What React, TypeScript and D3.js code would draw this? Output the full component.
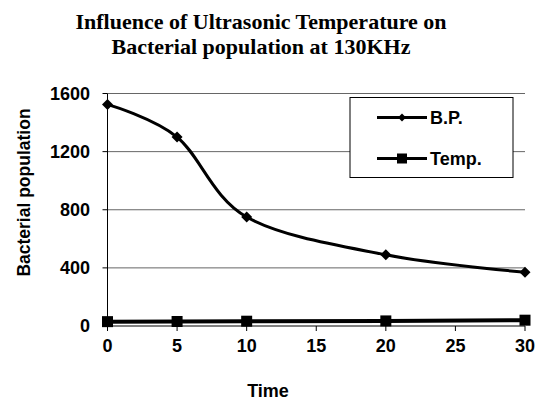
import React from 'react';
import * as d3 from 'd3';

const times = [0, 5, 10, 20, 30];
const bacterialPop = [1525, 1300, 750, 490, 370];
const temperature = [30, 31, 33, 35, 40];
const yTicks = [0, 400, 800, 1200, 1600];
const xTicks = [0, 5, 10, 15, 20, 25, 30];
const titleLines = ['Influence of Ultrasonic Temperature on', 'Bacterial population at 130KHz'];

const W = 542;
const H = 401;
const sans = 'Arial, "Liberation Sans", sans-serif';
const serif = '"Times New Roman", "Liberation Serif", serif';

const App: React.FC = () => {
  const x = d3.scaleLinear().domain([0, 30]).range([107.5, 525]);
  const y = d3.scaleLinear().domain([0, 1600]).range([326, 93.5]);

  const bpLine = d3
    .line<number>()
    .x((_, i) => x(times[i]))
    .y((d) => y(d))
    .curve(d3.curveCardinal.tension(0));

  const tempLine = d3
    .line<number>()
    .x((_, i) => x(times[i]))
    .y((d) => y(d));

  const diamond = (cx: number, cy: number, r: number) =>
    `M${cx},${cy - r}L${cx + r},${cy}L${cx},${cy + r}L${cx - r},${cy}Z`;

  return (
    <svg width={W} height={H} style={{ position: 'absolute', left: 0, top: 0 }}>
      <rect width={W} height={H} fill="#fff" />

      {/* title */}
      {titleLines.map((t, i) => (
        <text
          key={t}
          x={261}
          y={29 + i * 25}
          textAnchor="middle"
          fontFamily={serif}
          fontWeight="bold"
          fontSize={22}
        >
          {t}
        </text>
      ))}

      {/* gridlines */}
      {yTicks.slice(1).map((v) => (
        <line key={v} x1={x(0)} x2={x(30)} y1={y(v)} y2={y(v)} stroke="#666" strokeWidth={1} />
      ))}

      {/* axes */}
      <line x1={x(0)} x2={x(0)} y1={y(1600)} y2={y(0)} stroke="#000" />
      <line x1={x(0)} x2={x(30)} y1={y(0)} y2={y(0)} stroke="#000" />
      {yTicks.map((v) => (
        <g key={v}>
          <line x1={x(0) - 5} x2={x(0)} y1={y(v)} y2={y(v)} stroke="#000" />
          <text
            x={90}
            y={y(v)}
            dy="0.36em"
            textAnchor="end"
            fontFamily={sans}
            fontWeight="bold"
            fontSize={18}
          >
            {v}
          </text>
        </g>
      ))}
      {xTicks.map((v) => (
        <g key={v}>
          <line x1={x(v)} x2={x(v)} y1={y(0)} y2={y(0) + 5} stroke="#000" />
          <text
            x={x(v)}
            y={352}
            textAnchor="middle"
            fontFamily={sans}
            fontWeight="bold"
            fontSize={18}
          >
            {v}
          </text>
        </g>
      ))}

      {/* axis titles */}
      <text
        transform="translate(30,192.5) rotate(-90)"
        textAnchor="middle"
        fontFamily={sans}
        fontWeight="bold"
        fontSize={17.5}
      >
        Bacterial population
      </text>
      <text x={268} y={397} textAnchor="middle" fontFamily={sans} fontWeight="bold" fontSize={18}>
        Time
      </text>

      {/* series */}
      <path d={tempLine(temperature) ?? ''} fill="none" stroke="#000" strokeWidth={4} />
      {temperature.map((v, i) => (
        <rect key={i} x={x(times[i]) - 5.5} y={y(v) - 5.5} width={11} height={11} fill="#000" />
      ))}
      <path d={bpLine(bacterialPop) ?? ''} fill="none" stroke="#000" strokeWidth={3} />
      {bacterialPop.map((v, i) => (
        <path key={i} d={diamond(x(times[i]), y(v), 5.5)} fill="#000" />
      ))}

      {/* legend */}
      <rect x={350} y={97.5} width={163} height={80} fill="#fff" stroke="#000" />
      <line x1={377} x2={427} y1={117.5} y2={117.5} stroke="#000" strokeWidth={3} />
      <path d={diamond(402, 117.5, 4)} fill="#000" />
      <text x={430} y={117.5} dy="0.36em" fontFamily={sans} fontWeight="bold" fontSize={18}>
        B.P.
      </text>
      <line x1={377} x2={427} y1={158.5} y2={158.5} stroke="#000" strokeWidth={3} />
      <rect x={397} y={153.5} width={10} height={10} fill="#000" />
      <text x={430} y={158.5} dy="0.36em" fontFamily={sans} fontWeight="bold" fontSize={18}>
        Temp.
      </text>
    </svg>
  );
};

export default App;
